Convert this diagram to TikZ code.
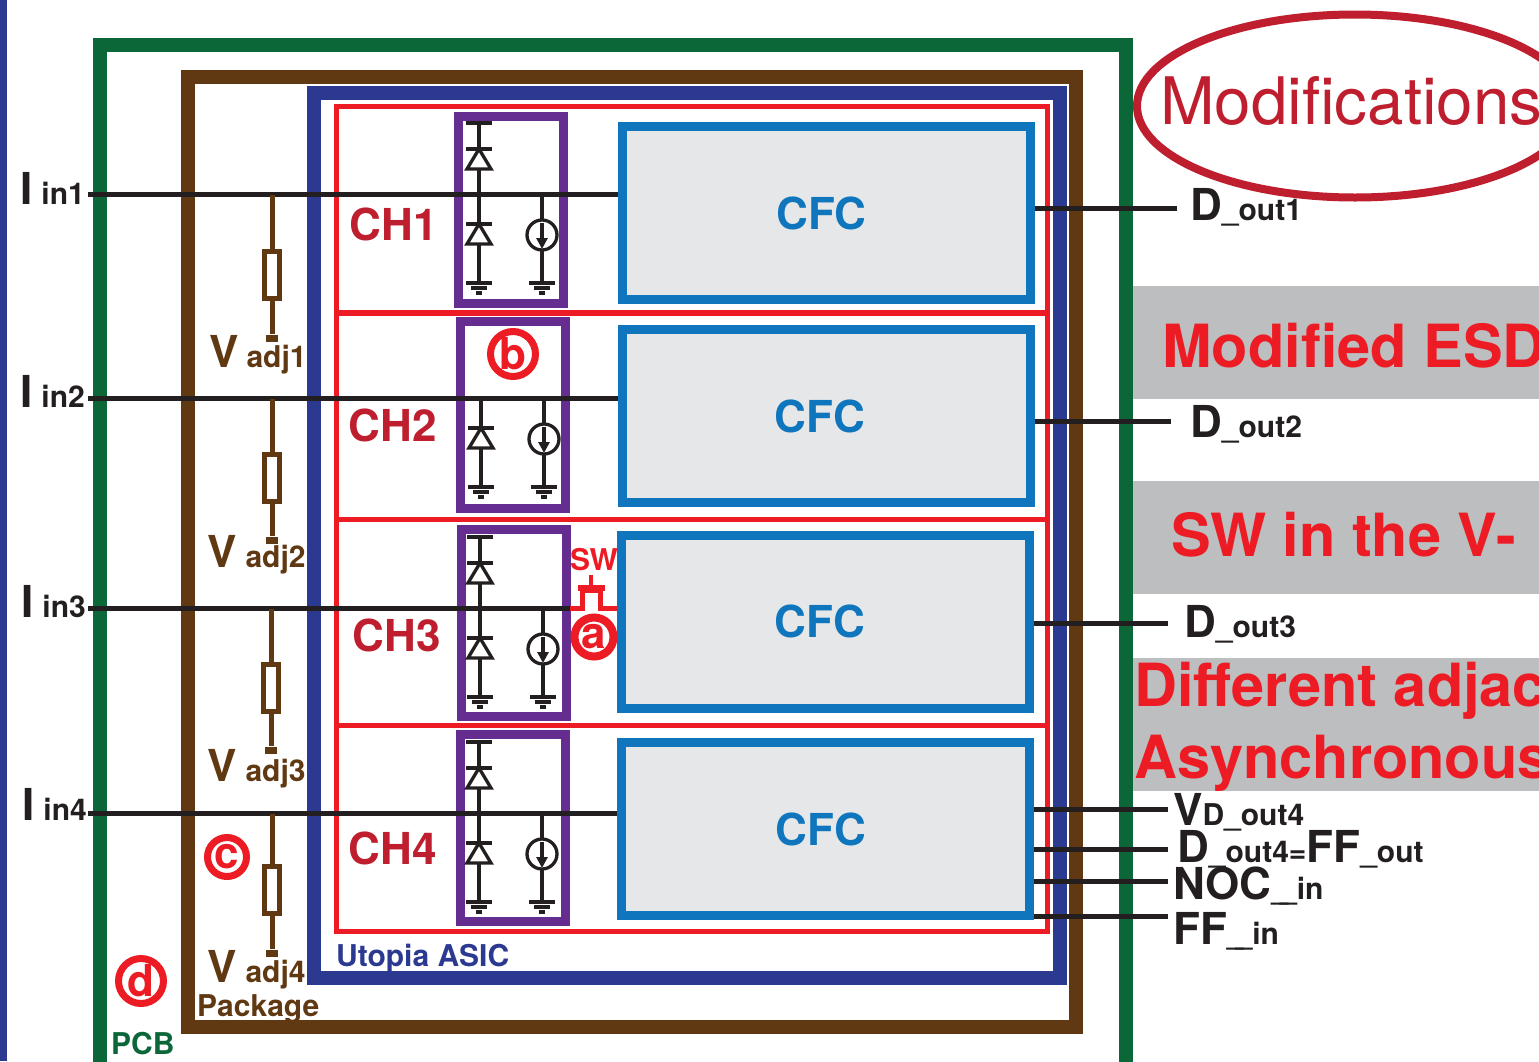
\documentclass[tikz,border=0pt]{standalone}
\usepackage{fontspec}
\setmainfont{TeX Gyre Heros}
\usetikzlibrary{arrows.meta,shapes.geometric}
\definecolor{pcbgreen}{HTML}{0B6738}
\definecolor{pkgbrown}{HTML}{603913}
\definecolor{asicblue}{HTML}{2B3990}
\definecolor{chred}{HTML}{ED1C24}
\definecolor{darkred}{HTML}{BE1E2D}
\definecolor{esdpurple}{HTML}{662D91}
\definecolor{cfcblue}{HTML}{0F75BC}
\definecolor{cfcgray}{HTML}{E6E7E8}
\definecolor{notegray}{HTML}{BCBEC0}
\definecolor{wireblack}{HTML}{231F20}
\newcommand{\captxt}[1]{{\fontsize{44}{44}\selectfont #1}}
\newcommand{\subtxt}[1]{{\fontsize{30}{30}\selectfont #1}}
\newcommand{\notetxt}[1]{{\fontsize{59.5}{59.5}\selectfont #1}}
\newcommand{\longbar}{\_\kern-8pt\_}
\begin{document}
\begin{tikzpicture}[x=1pt, y=-1pt, font=\bfseries,
    frame/.style = {draw, line width=14pt, minimum width=#1, inner sep=0pt},
    chan/.style = {draw=chred, line width=5pt, minimum width=711pt, minimum height=206pt, inner sep=0pt},
    esd/.style = {draw=esdpurple, line width=9pt, minimum width=105pt, minimum height=187pt, inner sep=0pt},
    cfc/.style = {draw=cfcblue, fill=cfcgray, line width=9pt, minimum width=408pt, minimum height=173pt, text=cfcblue, inner sep=0pt},
    wire/.style = {draw=wireblack, line width=5.5pt},
    ckt/.style = {draw=wireblack, line width=3.3pt},
    lead/.style = {draw=pkgbrown, line width=5pt},
    res/.style = {draw=pkgbrown, line width=5pt, minimum width=15pt, minimum height=47pt, inner sep=0pt},
    endcap/.style = {fill=pkgbrown, minimum width=12pt, minimum height=7pt, inner sep=0pt},
    badge/.style = {draw=chred, fill=white, circle, line width=7pt, text=chred, inner sep=0pt, minimum size=#1},
    chlabel/.style = {text=darkred, inner sep=0pt},
    txt/.style = {anchor=base west, inner sep=0pt},
    note/.style = {fill=notegray, minimum width=420pt, inner sep=0pt},
    gnd/.pic = {
        \draw[ckt] (-13,0) -- (13,0);
        \draw[ckt] (-8,5) -- (8,5);
        \draw[ckt] (-3,10) -- (3,10);
    },
    diode/.pic = {
        \draw[ckt] (-13,0) -- (13,0);
        \draw[ckt, fill=white, line join=miter] (0,0) -- (-12,20) -- (12,20) -- cycle;
    },
    clamp/.pic = {
        \draw[ckt] (0,0) -- (0,89);
        \pic at (0,30) {diode};
        \pic at (0,89) {gnd};
        \draw[ckt] (63,0) -- (63,89);
        \draw[ckt, fill=white] (63,41) circle (15);
        \draw[draw=wireblack, line width=3.3pt, -{Triangle[length=11pt,width=11pt]}] (63,29) -- (63,55);
        \pic at (63,89) {gnd};
    },
    clamptop/.pic = {
        \draw[ckt] (0,0) -- (0,-71);
        \draw[ckt] (-13,-71) -- (13,-71);
        \pic at (0,-45) {diode};
    }]
    \useasboundingbox (0,0) rectangle (1539,1061);
    \clip (0,0) rectangle (1539,1061);
    \fill[white] (0,0) rectangle (1539,1061);
    \fill[asicblue] (0,0) rectangle (6.5,1061);

    % boards and package
    \node[frame=1026pt, draw=pcbgreen, minimum height=1100pt] (pcb) at (613,595) {};
    \node[frame=888pt, draw=pkgbrown, minimum height=950pt] (pkg) at (632,552) {};
    \node[frame=746pt, draw=asicblue, minimum height=885pt] (asic) at (687,535.5) {};

    % channels
    \node[chan] (ch1) at (692,209) {};
    \node[chan] (ch2) at (692,416) {};
    \node[chan] (ch3) at (692,622) {};
    \node[chan] (ch4) at (692,828) {};

    \node[esd] (esd1) at (511,209.5) {};
    \node[esd] (esd2) at (513,415) {};
    \node[esd] (esd3) at (513.5,622.5) {};
    \node[esd] (esd4) at (512.5,827.5) {};

    \node[cfc] (cfc1) at (826.5,213) {\captxt{CFC}\kern10pt};
    \node[cfc] (cfc2) at (826,416) {\captxt{CFC}\kern12pt};
    \node[cfc] (cfc3) at (825.5,621.5) {\captxt{CFC}\kern11pt};
    \node[cfc] (cfc4) at (825.5,829) {\raisebox{-2pt}{\captxt{CFC}}\kern9pt};

    \node[chlabel] (ch1lab) at (394,224) {\captxt{CH1}};
    \node[chlabel] (ch2lab) at (393,425) {\captxt{CH2}};
    \node[chlabel] (ch3lab) at (397,635) {\captxt{CH3}};
    \node[chlabel] (ch4lab) at (393,848) {\captxt{CH4}};

    % inputs
    \coordinate (in1) at (88,194.5);
    \coordinate (in2) at (88,398.5);
    \coordinate (in3) at (88,608.5);
    \coordinate (in4) at (88,813.5);
    \coordinate (sw1) at (570,608.5);
    \draw[wire] (in1) -- (in1 -| cfc1.west);
    \draw[wire] (in2) -- (in2 -| cfc2.west);
    \draw[wire] (in3) -- (sw1);
    \draw[wire] (in4) -- (in4 -| cfc4.west);

    \pic at (479,194) {clamp};
    \pic at (479,194) {clamptop};
    \pic at (481,398) {clamp};
    \pic at (480,608) {clamp};
    \pic at (480,608) {clamptop};
    \pic at (479,813) {clamp};
    \pic at (479,813) {clamptop};

    % switch
    \coordinate (sw2) at (cfc3.west |- sw1);
    \draw[draw=chred, line width=5pt] (sw1) -- (582,608.5) -- (582,590) -- (600,590) -- (600,608.5) -- (sw2);
    \draw[draw=chred, line width=6pt] (578,588) -- (605,588);
    \draw[draw=chred, line width=4pt] (591,575) -- (591,588);
    \node[inner sep=0pt, text=chred] (swlab) at (594,560) {\subtxt{SW}};

    % adjust resistors
    \node[res] (r1) at (272,275) {};
    \node[res] (r2) at (272,478) {};
    \node[res] (r3) at (271,688) {};
    \node[res] (r4) at (272,890) {};
    \node[endcap] (v1) at (272,338) {};
    \node[endcap] (v2) at (272,540) {};
    \node[endcap] (v3) at (271,750) {};
    \node[endcap] (v4) at (272,953) {};
    \draw[lead] (r1.north |- in1) -- (r1) (r1) -- (v1);
    \draw[lead] (r2.north |- in2) -- (r2) (r2) -- (v2);
    \draw[lead] (r3.north |- in3) -- (r3) (r3) -- (v3);
    \draw[lead] (r4.north |- in4) -- (r4) (r4) -- (v4);
    \node[res, fill=white] at (r1) {};
    \node[res, fill=white] at (r2) {};
    \node[res, fill=white] at (r3) {};
    \node[res, fill=white] at (r4) {};

    % outputs
    \coordinate (out1) at (1177,208.5);
    \coordinate (out2) at (1171,421.5);
    \coordinate (out3) at (1168,623.5);
    \coordinate (out4a) at (1168,809.5);
    \coordinate (out4b) at (1168,849.5);
    \coordinate (out4c) at (1168,881.5);
    \coordinate (out4d) at (1168,916.5);
    \draw[wire] (cfc1.east |- out1) -- (out1);
    \draw[wire] (cfc2.east |- out2) -- (out2);
    \draw[wire] (cfc3.east |- out3) -- (out3);
    \draw[wire] (cfc4.east |- out4a) -- (out4a);
    \draw[wire] (cfc4.east |- out4b) -- (out4b);
    \draw[wire] (cfc4.east |- out4c) -- (out4c);
    \draw[wire] (cfc4.east |- out4d) -- (out4d);

    % labels
    \node[txt, text=wireblack] (iin1) at (20,204) {\captxt{I}\hspace{9pt}\subtxt{in1}};
    \node[txt, text=wireblack] (iin2) at (20,407) {\captxt{I}\hspace{9pt}\subtxt{in2}};
    \node[txt, text=wireblack] (iin3) at (21,617) {\captxt{I}\hspace{9pt}\subtxt{in3}};
    \node[txt, text=wireblack] (iin4) at (22,820) {\captxt{I}\hspace{9pt}\subtxt{in4}};
    \node[txt, text=pkgbrown] (vadj1) at (209,367) {\captxt{V}\hspace{8pt}\subtxt{adj1}};
    \node[txt, text=pkgbrown] (vadj2) at (207,567) {\captxt{V}\hspace{9pt}\subtxt{adj2}};
    \node[txt, text=pkgbrown] (vadj3) at (207,781) {\captxt{V}\hspace{9pt}\subtxt{adj3}};
    \node[txt, text=pkgbrown] (vadj4) at (207,982) {\captxt{V}\hspace{9pt}\subtxt{adj4}};
    \node[txt, text=pkgbrown] (pkglab) at (197,1016) {\subtxt{Package}};
    \node[txt, text=pcbgreen] (pcblab) at (111,1054) {\subtxt{PCB}};
    \node[txt, text=asicblue] (asiclab) at (336,966) {\subtxt{Utopia ASIC}};
    \node[txt, text=wireblack] (dout1) at (1190,220) {\captxt{D}\subtxt{\_out1}};
    \node[txt, text=wireblack] (dout2) at (1190,437) {\captxt{D}\subtxt{\_out2}};
    \node[txt, text=wireblack] (dout3) at (1184,637) {\captxt{D}\subtxt{\_out3}};
    \node[txt, text=wireblack] (vdout4) at (1173,825) {\captxt{V}\subtxt{D\_out4}};
    \node[txt, text=wireblack] (dout4) at (1177,862) {\captxt{D}\subtxt{\_out4=}\captxt{FF}\subtxt{\_out}};
    \node[txt, text=wireblack] (nocin) at (1173,899) {\captxt{NOC}\subtxt{\longbar in}};
    \node[txt, text=wireblack] (ffin) at (1173,944) {\captxt{FF}\subtxt{\longbar in}};

    % badges
    \node[badge=39pt, line width=8pt] (bada) at (594,637) {\captxt{a}};
    \node[badge=45pt] (badb) at (513,354) {\captxt{b}};
    \node[badge=39pt] (badc) at (227,857) {\captxt{c}};
    \node[badge=45pt] (badd) at (141,981) {\captxt{d}};

    % notes on the right
    \node[note, minimum height=113pt] (note1) at (1343,342.5) {};
    \node[note, minimum height=113pt] (note2) at (1343,537.5) {};
    \node[note, minimum height=133pt] (note3) at (1343,724.5) {};
    \node[txt, text=chred] (modesd) at (1162,367) {\notetxt{Modified ESD}};
    \node[txt, text=chred] (swv) at (1171,556) {\notetxt{SW in the V-}};
    \node[txt, text=chred] (diff) at (1134,706) {\notetxt{Different adjac}};
    \node[txt, text=chred] (asyn) at (1134,778) {\notetxt{Asynchronous}};
    \node[ellipse, draw=darkred, line width=8pt, minimum width=436pt, minimum height=183pt, inner sep=0pt] (mods) at (1355,106) {};
    \node[txt, text=darkred, font=\mdseries] (modlab) at (1160,124) {{\fontsize{65.5}{65.5}\selectfont Modifications}};
\end{tikzpicture}
\end{document}
